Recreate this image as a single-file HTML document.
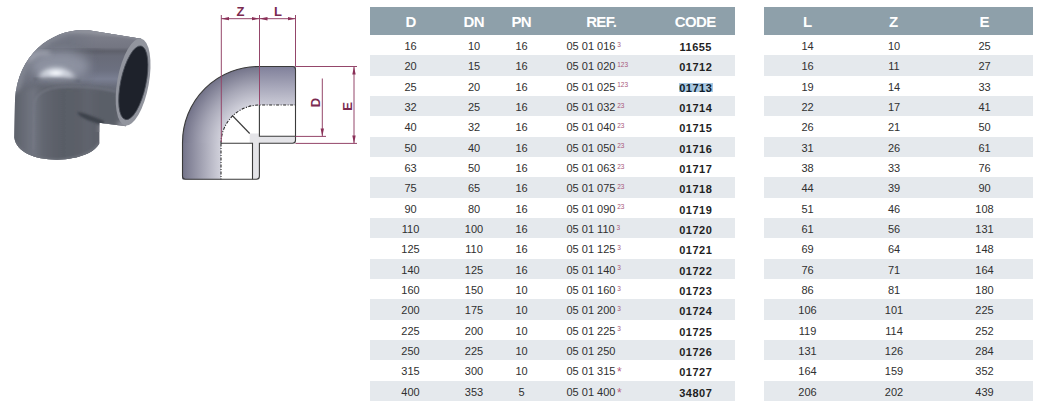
<!DOCTYPE html>
<html><head><meta charset="utf-8"><style>
html,body{margin:0;padding:0;background:#fff;width:1042px;height:404px;overflow:hidden;position:relative;font-family:"Liberation Sans",sans-serif;}
.hd{position:absolute;top:7px;height:28px;background:#8ea0aa;}
.st{position:absolute;height:20.3333px;background:#e5e9ed;}
.h{position:absolute;top:8px;height:28px;line-height:28px;width:60px;text-align:center;color:#fff;font-weight:bold;font-size:15px;}
.c{position:absolute;width:60px;text-align:center;color:#303030;font-size:11px;line-height:20px;}
.r{position:absolute;color:#303030;font-size:11px;line-height:20px;white-space:nowrap;}
.r sup{color:#a8587a;font-size:6.5px;line-height:0;vertical-align:0;position:relative;top:-3.5px;margin-left:1.8px;}
.r sup.as{font-size:12px;top:1px;margin-left:1.5px;color:#b8607c;}
.k{position:absolute;width:60px;text-align:center;color:#1f1f1f;font-size:11px;line-height:20px;font-weight:bold;letter-spacing:0.5px;text-indent:0.5px;}
.sel{background:#a9c8e2;color:#0c1a2a;}
svg{position:absolute;}
</style></head><body>

<div class="hd" style="left:370px;width:365px"></div>
<div class="hd" style="left:764px;width:269px"></div>
<div class="st" style="left:370px;width:365px;top:55.333px"></div>
<div class="st" style="left:764px;width:269px;top:55.333px"></div>
<div class="st" style="left:370px;width:365px;top:96.000px"></div>
<div class="st" style="left:764px;width:269px;top:96.000px"></div>
<div class="st" style="left:370px;width:365px;top:136.667px"></div>
<div class="st" style="left:764px;width:269px;top:136.667px"></div>
<div class="st" style="left:370px;width:365px;top:177.333px"></div>
<div class="st" style="left:764px;width:269px;top:177.333px"></div>
<div class="st" style="left:370px;width:365px;top:218.000px"></div>
<div class="st" style="left:764px;width:269px;top:218.000px"></div>
<div class="st" style="left:370px;width:365px;top:258.667px"></div>
<div class="st" style="left:764px;width:269px;top:258.667px"></div>
<div class="st" style="left:370px;width:365px;top:299.333px"></div>
<div class="st" style="left:764px;width:269px;top:299.333px"></div>
<div class="st" style="left:370px;width:365px;top:340.000px"></div>
<div class="st" style="left:764px;width:269px;top:340.000px"></div>
<div class="st" style="left:370px;width:365px;top:380.667px"></div>
<div class="st" style="left:764px;width:269px;top:380.667px"></div>
<div class="h" style="left:380.8px;">D</div>
<div class="h" style="left:444.0px;letter-spacing:-0.6px;text-indent:-0.6px;">DN</div>
<div class="h" style="left:491.5px;letter-spacing:-0.6px;text-indent:-0.6px;">PN</div>
<div class="h" style="left:571.5px;letter-spacing:-0.6px;text-indent:-0.6px;">REF.</div>
<div class="h" style="left:665.5px;letter-spacing:-0.6px;text-indent:-0.6px;">CODE</div>
<div class="h" style="left:777.7px;">L</div>
<div class="h" style="left:863.7px;">Z</div>
<div class="h" style="left:954.6px;">E</div>
<div class="c" style="left:380.5px;top:36.00px">16</div>
<div class="c" style="left:444.0px;top:36.00px">10</div>
<div class="c" style="left:491.5px;top:36.00px">16</div>
<div class="r" style="left:566.5px;top:36.00px">05 01 016<sup>3</sup></div>
<div class="k" style="left:665.5px;top:37.00px">11655</div>
<div class="c" style="left:777.5px;top:36.00px">14</div>
<div class="c" style="left:864.0px;top:36.00px">10</div>
<div class="c" style="left:954.5px;top:36.00px">25</div>
<div class="c" style="left:380.5px;top:56.33px">20</div>
<div class="c" style="left:444.0px;top:56.33px">15</div>
<div class="c" style="left:491.5px;top:56.33px">16</div>
<div class="r" style="left:566.5px;top:56.33px">05 01 020<sup>123</sup></div>
<div class="k" style="left:665.5px;top:57.33px">01712</div>
<div class="c" style="left:777.5px;top:56.33px">16</div>
<div class="c" style="left:864.0px;top:56.33px">11</div>
<div class="c" style="left:954.5px;top:56.33px">27</div>
<div class="c" style="left:380.5px;top:76.67px">25</div>
<div class="c" style="left:444.0px;top:76.67px">20</div>
<div class="c" style="left:491.5px;top:76.67px">16</div>
<div class="r" style="left:566.5px;top:76.67px">05 01 025<sup>123</sup></div>
<div style="position:absolute;left:679px;top:83px;width:34px;height:9px;background:#a9c8e2"></div>
<div class="k" style="left:665.5px;top:77.67px;color:#0e1a28">01713</div>
<div class="c" style="left:777.5px;top:76.67px">19</div>
<div class="c" style="left:864.0px;top:76.67px">14</div>
<div class="c" style="left:954.5px;top:76.67px">33</div>
<div class="c" style="left:380.5px;top:97.00px">32</div>
<div class="c" style="left:444.0px;top:97.00px">25</div>
<div class="c" style="left:491.5px;top:97.00px">16</div>
<div class="r" style="left:566.5px;top:97.00px">05 01 032<sup>23</sup></div>
<div class="k" style="left:665.5px;top:98.00px">01714</div>
<div class="c" style="left:777.5px;top:97.00px">22</div>
<div class="c" style="left:864.0px;top:97.00px">17</div>
<div class="c" style="left:954.5px;top:97.00px">41</div>
<div class="c" style="left:380.5px;top:117.33px">40</div>
<div class="c" style="left:444.0px;top:117.33px">32</div>
<div class="c" style="left:491.5px;top:117.33px">16</div>
<div class="r" style="left:566.5px;top:117.33px">05 01 040<sup>23</sup></div>
<div class="k" style="left:665.5px;top:118.33px">01715</div>
<div class="c" style="left:777.5px;top:117.33px">26</div>
<div class="c" style="left:864.0px;top:117.33px">21</div>
<div class="c" style="left:954.5px;top:117.33px">50</div>
<div class="c" style="left:380.5px;top:137.67px">50</div>
<div class="c" style="left:444.0px;top:137.67px">40</div>
<div class="c" style="left:491.5px;top:137.67px">16</div>
<div class="r" style="left:566.5px;top:137.67px">05 01 050<sup>23</sup></div>
<div class="k" style="left:665.5px;top:138.67px">01716</div>
<div class="c" style="left:777.5px;top:137.67px">31</div>
<div class="c" style="left:864.0px;top:137.67px">26</div>
<div class="c" style="left:954.5px;top:137.67px">61</div>
<div class="c" style="left:380.5px;top:158.00px">63</div>
<div class="c" style="left:444.0px;top:158.00px">50</div>
<div class="c" style="left:491.5px;top:158.00px">16</div>
<div class="r" style="left:566.5px;top:158.00px">05 01 063<sup>23</sup></div>
<div class="k" style="left:665.5px;top:159.00px">01717</div>
<div class="c" style="left:777.5px;top:158.00px">38</div>
<div class="c" style="left:864.0px;top:158.00px">33</div>
<div class="c" style="left:954.5px;top:158.00px">76</div>
<div class="c" style="left:380.5px;top:178.33px">75</div>
<div class="c" style="left:444.0px;top:178.33px">65</div>
<div class="c" style="left:491.5px;top:178.33px">16</div>
<div class="r" style="left:566.5px;top:178.33px">05 01 075<sup>23</sup></div>
<div class="k" style="left:665.5px;top:179.33px">01718</div>
<div class="c" style="left:777.5px;top:178.33px">44</div>
<div class="c" style="left:864.0px;top:178.33px">39</div>
<div class="c" style="left:954.5px;top:178.33px">90</div>
<div class="c" style="left:380.5px;top:198.67px">90</div>
<div class="c" style="left:444.0px;top:198.67px">80</div>
<div class="c" style="left:491.5px;top:198.67px">16</div>
<div class="r" style="left:566.5px;top:198.67px">05 01 090<sup>23</sup></div>
<div class="k" style="left:665.5px;top:199.67px">01719</div>
<div class="c" style="left:777.5px;top:198.67px">51</div>
<div class="c" style="left:864.0px;top:198.67px">46</div>
<div class="c" style="left:954.5px;top:198.67px">108</div>
<div class="c" style="left:380.5px;top:219.00px">110</div>
<div class="c" style="left:444.0px;top:219.00px">100</div>
<div class="c" style="left:491.5px;top:219.00px">16</div>
<div class="r" style="left:566.5px;top:219.00px">05 01 110<sup>3</sup></div>
<div class="k" style="left:665.5px;top:220.00px">01720</div>
<div class="c" style="left:777.5px;top:219.00px">61</div>
<div class="c" style="left:864.0px;top:219.00px">56</div>
<div class="c" style="left:954.5px;top:219.00px">131</div>
<div class="c" style="left:380.5px;top:239.33px">125</div>
<div class="c" style="left:444.0px;top:239.33px">110</div>
<div class="c" style="left:491.5px;top:239.33px">16</div>
<div class="r" style="left:566.5px;top:239.33px">05 01 125<sup>3</sup></div>
<div class="k" style="left:665.5px;top:240.33px">01721</div>
<div class="c" style="left:777.5px;top:239.33px">69</div>
<div class="c" style="left:864.0px;top:239.33px">64</div>
<div class="c" style="left:954.5px;top:239.33px">148</div>
<div class="c" style="left:380.5px;top:259.67px">140</div>
<div class="c" style="left:444.0px;top:259.67px">125</div>
<div class="c" style="left:491.5px;top:259.67px">16</div>
<div class="r" style="left:566.5px;top:259.67px">05 01 140<sup>3</sup></div>
<div class="k" style="left:665.5px;top:260.67px">01722</div>
<div class="c" style="left:777.5px;top:259.67px">76</div>
<div class="c" style="left:864.0px;top:259.67px">71</div>
<div class="c" style="left:954.5px;top:259.67px">164</div>
<div class="c" style="left:380.5px;top:280.00px">160</div>
<div class="c" style="left:444.0px;top:280.00px">150</div>
<div class="c" style="left:491.5px;top:280.00px">10</div>
<div class="r" style="left:566.5px;top:280.00px">05 01 160<sup>3</sup></div>
<div class="k" style="left:665.5px;top:281.00px">01723</div>
<div class="c" style="left:777.5px;top:280.00px">86</div>
<div class="c" style="left:864.0px;top:280.00px">81</div>
<div class="c" style="left:954.5px;top:280.00px">180</div>
<div class="c" style="left:380.5px;top:300.33px">200</div>
<div class="c" style="left:444.0px;top:300.33px">175</div>
<div class="c" style="left:491.5px;top:300.33px">10</div>
<div class="r" style="left:566.5px;top:300.33px">05 01 200<sup>3</sup></div>
<div class="k" style="left:665.5px;top:301.33px">01724</div>
<div class="c" style="left:777.5px;top:300.33px">106</div>
<div class="c" style="left:864.0px;top:300.33px">101</div>
<div class="c" style="left:954.5px;top:300.33px">225</div>
<div class="c" style="left:380.5px;top:320.67px">225</div>
<div class="c" style="left:444.0px;top:320.67px">200</div>
<div class="c" style="left:491.5px;top:320.67px">10</div>
<div class="r" style="left:566.5px;top:320.67px">05 01 225<sup>3</sup></div>
<div class="k" style="left:665.5px;top:321.67px">01725</div>
<div class="c" style="left:777.5px;top:320.67px">119</div>
<div class="c" style="left:864.0px;top:320.67px">114</div>
<div class="c" style="left:954.5px;top:320.67px">252</div>
<div class="c" style="left:380.5px;top:341.00px">250</div>
<div class="c" style="left:444.0px;top:341.00px">225</div>
<div class="c" style="left:491.5px;top:341.00px">10</div>
<div class="r" style="left:566.5px;top:341.00px">05 01 250</div>
<div class="k" style="left:665.5px;top:342.00px">01726</div>
<div class="c" style="left:777.5px;top:341.00px">131</div>
<div class="c" style="left:864.0px;top:341.00px">126</div>
<div class="c" style="left:954.5px;top:341.00px">284</div>
<div class="c" style="left:380.5px;top:361.33px">315</div>
<div class="c" style="left:444.0px;top:361.33px">300</div>
<div class="c" style="left:491.5px;top:361.33px">10</div>
<div class="r" style="left:566.5px;top:361.33px">05 01 315<sup class="as">*</sup></div>
<div class="k" style="left:665.5px;top:362.33px">01727</div>
<div class="c" style="left:777.5px;top:361.33px">164</div>
<div class="c" style="left:864.0px;top:361.33px">159</div>
<div class="c" style="left:954.5px;top:361.33px">352</div>
<div class="c" style="left:380.5px;top:381.67px">400</div>
<div class="c" style="left:444.0px;top:381.67px">353</div>
<div class="c" style="left:491.5px;top:381.67px">5</div>
<div class="r" style="left:566.5px;top:381.67px">05 01 400<sup class="as">*</sup></div>
<div class="k" style="left:665.5px;top:382.67px">34807</div>
<div class="c" style="left:777.5px;top:381.67px">206</div>
<div class="c" style="left:864.0px;top:381.67px">202</div>
<div class="c" style="left:954.5px;top:381.67px">439</div>
<svg width="170" height="180" viewBox="0 0 170 180" style="left:0;top:0">
<defs>
<clipPath id="sil"><path d="M141,38.8 L90,30.4 C55,27 18,52 15,100 L14.3,137.6 C16,152 35,160 57.4,159.8 C80,159 95,152 99.3,143.5 L99.3,122.7 L126,126.3 L133.5,82.5 Z"/></clipPath>
<linearGradient id="lp" x1="14" y1="0" x2="100" y2="0" gradientUnits="userSpaceOnUse">
<stop offset="0" stop-color="#5e626b"/>
<stop offset="0.08" stop-color="#646872"/>
<stop offset="0.23" stop-color="#727682"/>
<stop offset="0.32" stop-color="#636771"/>
<stop offset="0.55" stop-color="#595d66"/>
<stop offset="0.75" stop-color="#5b5f68"/>
<stop offset="0.85" stop-color="#60646e"/>
<stop offset="1" stop-color="#5a5e67"/>
</linearGradient>
<linearGradient id="rp" x1="0" y1="30" x2="0" y2="126" gradientUnits="userSpaceOnUse">
<stop offset="0" stop-color="#9a9ca4"/>
<stop offset="0.04" stop-color="#888a94"/>
<stop offset="0.08" stop-color="#7a7c88"/>
<stop offset="0.18" stop-color="#747682"/>
<stop offset="0.22" stop-color="#5e606b"/>
<stop offset="0.27" stop-color="#686b78"/>
<stop offset="0.42" stop-color="#6c7080"/>
<stop offset="0.51" stop-color="#7a7f92"/>
<stop offset="0.59" stop-color="#696d7b"/>
<stop offset="0.83" stop-color="#5f626d"/>
<stop offset="0.93" stop-color="#666974"/>
<stop offset="0.97" stop-color="#8c8e97"/>
<stop offset="1" stop-color="#8c8e97"/>
</linearGradient>
<linearGradient id="rpm" x1="68" y1="0" x2="96" y2="0" gradientUnits="userSpaceOnUse">
<stop offset="0" stop-color="#fff" stop-opacity="0"/>
<stop offset="1" stop-color="#fff" stop-opacity="1"/>
</linearGradient>
<mask id="rpmask" maskUnits="userSpaceOnUse" x="0" y="0" width="170" height="180"><rect x="0" y="0" width="170" height="180" fill="url(#rpm)"/></mask>
<radialGradient id="hl" cx="0.5" cy="0.5" r="0.5">
<stop offset="0" stop-color="#f8fafe" stop-opacity="1"/>
<stop offset="0.5" stop-color="#e0e4ec" stop-opacity="0.85"/>
<stop offset="1" stop-color="#b0b5c2" stop-opacity="0"/>
</radialGradient>
<filter id="b1" x="-50%" y="-50%" width="200%" height="200%"><feGaussianBlur stdDeviation="1"/></filter>
<filter id="b2" x="-50%" y="-50%" width="200%" height="200%"><feGaussianBlur stdDeviation="2.5"/></filter>
<filter id="b4" x="-50%" y="-50%" width="200%" height="200%"><feGaussianBlur stdDeviation="5"/></filter>
</defs>
<g clip-path="url(#sil)">
<rect x="0" y="0" width="170" height="180" fill="#636772"/>
<!-- upper bend -->
<path d="M0,20 L150,20 L150,84 C100,82 60,80 0,88 Z" fill="#717582" filter="url(#b4)"/>
<!-- outer rim of bend lighter -->
<path d="M90,31 C55,28 19,52 16,100" stroke="#868a95" stroke-width="5" fill="none" filter="url(#b2)"/>
<!-- right pipe -->
<rect x="60" y="20" width="100" height="112" fill="url(#rp)" mask="url(#rpmask)"/>
<!-- top bright band -->
<path d="M58,33 C75,29 100,31 142,38.8" stroke="#8e919b" stroke-width="2.5" fill="none" filter="url(#b1)"/>
<!-- dark band continuing into bend -->
<path d="M45,52 C60,49 80,49 100,50" stroke="#5e626d" stroke-width="2.5" fill="none" filter="url(#b2)" opacity="0.8"/>
<!-- lower pipe -->
<path d="M0,104 C10,92 25,88 40,87 C70,85 100,87 118,92 L118,130 L99.3,124 L99.3,180 L0,180 Z" fill="url(#lp)" filter="url(#b2)"/>
<!-- shoulder curve light -->
<path d="M33.5,150 L34,104 C36,92 48,88 62,87 C85,86 102,88 118,92" stroke="#7a7e8a" stroke-width="1.5" fill="none" filter="url(#b1)" opacity="0.7"/>
<!-- dark band under highlight -->
<path d="M34,79 C45,78 62,78 80,81" stroke="#5c606c" stroke-width="2.5" fill="none" filter="url(#b1)" opacity="0.85"/>
<!-- haze -->
<ellipse cx="60" cy="66" rx="30" ry="14" fill="#a0a5b5" opacity="0.6" filter="url(#b4)"/>
<!-- streak -->
<path d="M28,60 C34,54 42,52 50,53" stroke="#a8acb8" stroke-width="3.5" fill="none" filter="url(#b2)"/>
<!-- bottom rim lighter -->
<path d="M15,142 C22,156 42,160 58,160 C80,159 94,152 99,143" stroke="#6e727c" stroke-width="2.5" fill="none" filter="url(#b1)"/>
<!-- groove -->
<path d="M77,112 C86,113 94,117 104,121 L104,125 C94,123 85,119 80,116 Z" fill="#3e424b" filter="url(#b1)"/>
</g>
<path d="M38,77.5 C44,66 64,63 76,78 C62,76 50,76 38,77.5 Z" fill="#e4e8f0" opacity="0.9" filter="url(#b2)"/>
<ellipse cx="56" cy="73" rx="12" ry="4.5" fill="url(#hl)" filter="url(#b1)"/>
<ellipse cx="133.1" cy="82" rx="15.8" ry="44.2" transform="rotate(10.3 133.1 82)" fill="#92959e"/>
<ellipse cx="133.3" cy="82.8" rx="12.6" ry="37.6" transform="rotate(12 133.3 82.8)" fill="#1e222b"/>
<ellipse cx="133.3" cy="82.8" rx="12.6" ry="37.6" transform="rotate(12 133.3 82.8)" fill="none" stroke="#464a54" stroke-width="0.8"/>
</svg>

<svg width="370" height="200" viewBox="0 0 370 200" style="left:0;top:0">
<defs>
<radialGradient id="rg" cx="259.5" cy="142.5" r="76" gradientUnits="userSpaceOnUse">
<stop offset="0.5" stop-color="#d2d2dc"/>
<stop offset="0.75" stop-color="#a6a6b6"/>
<stop offset="1" stop-color="#74748a"/>
</radialGradient>
<linearGradient id="lr" x1="0" y1="66.5" x2="0" y2="105" gradientUnits="userSpaceOnUse">
<stop offset="0" stop-color="#80809a"/>
<stop offset="1" stop-color="#cacad6"/>
</linearGradient>
<linearGradient id="ll" x1="182.5" y1="0" x2="221" y2="0" gradientUnits="userSpaceOnUse">
<stop offset="0" stop-color="#74748a"/>
<stop offset="1" stop-color="#d2d2dc"/>
</linearGradient>
<marker id="ar" viewBox="0 0 8 4" refX="8" refY="2" markerWidth="8" markerHeight="4" markerUnits="userSpaceOnUse" orient="auto-start-reverse"><path d="M0,0.3 L8,2 L0,3.7 Z" fill="#8a3058"/></marker>
</defs>
<path d="M182.5,179.3 L182.5,142.5 A76,76 0 0 1 259.5,66.5 L295.5,66.5 L295.5,105 L259.5,105 A38.5,38.5 0 0 0 221,143.5 L221,179.3 Z" fill="url(#rg)"/>
<rect x="259.5" y="66.5" width="36" height="38.5" fill="url(#lr)"/>
<rect x="182.5" y="143" width="38.5" height="36.3" fill="url(#ll)"/>
<path d="M249.7,133.5 L259.4,133.5 L259.4,136.3 L295.5,136.3 L295.5,143.3 L259.4,143.3 L259.4,179.3 L252.5,179.3 L252.5,143.3 L249.7,143.3 Z" fill="#e4e4e8"/>
<g fill="none" stroke="#3a3a3a" stroke-width="1.1">
<path d="M182.5,142.5 A76,76 0 0 1 259.5,66.5 L292.5,66.5 Q295.5,66.5 295.5,69.5 L295.5,140.3 Q295.5,143.3 292.5,143.3 L259.4,143.3 L259.4,176.3 Q259.4,179.3 256.4,179.3 L185.5,179.3 Q182.5,179.3 182.5,176.3 Z"/>
<path d="M259.4,105 L259.4,136.3 L295.5,136.3"/>
<path d="M221,143.3 L252.5,143.3 L252.5,179.3"/>
<path d="M232.3,115.5 L249.7,133.5"/>
</g>
<g fill="none" stroke="#2a2a2a" stroke-width="1.1" stroke-dasharray="3,1.5,1,1.5">
<path d="M221,143.5 A38.5,38.5 0 0 1 259.5,105 L295.5,105"/>
<path d="M221,143.5 L221,179.3"/>
</g>
<g fill="none" stroke="#94466a" stroke-width="1">
<path d="M221.3,15 L221.3,142"/>
<path d="M259.5,15 L259.5,105"/>
<path d="M295.5,15 L295.5,66.5"/>
<path d="M295.5,66.5 L357,66.5"/>
<path d="M295.5,143.4 L357,143.4"/>
<path d="M295.5,136.4 L326,136.4"/>
</g>
<g fill="none" stroke="#94466a" stroke-width="1">
<path d="M221.3,18.7 L259.5,18.7" marker-start="url(#ar)" marker-end="url(#ar)"/>
<path d="M259.5,18.7 L295.5,18.7" marker-start="url(#ar)" marker-end="url(#ar)"/>
<path d="M354,66.6 L354,143.4" marker-start="url(#ar)" marker-end="url(#ar)"/>
<path d="M322.3,78.5 L322.3,136.4" marker-end="url(#ar)"/>
</g>
<g fill="#7a2a50" font-family="Liberation Sans, sans-serif" font-weight="bold" font-size="13">
<text x="240.6" y="16.3" text-anchor="middle">Z</text>
<text x="278" y="16.3" text-anchor="middle">L</text>
<text transform="translate(319.7,102.6) rotate(-90)" text-anchor="middle">D</text>
<text transform="translate(351.9,106.4) rotate(-90)" text-anchor="middle">E</text>
</g>
</svg>

</body></html>
